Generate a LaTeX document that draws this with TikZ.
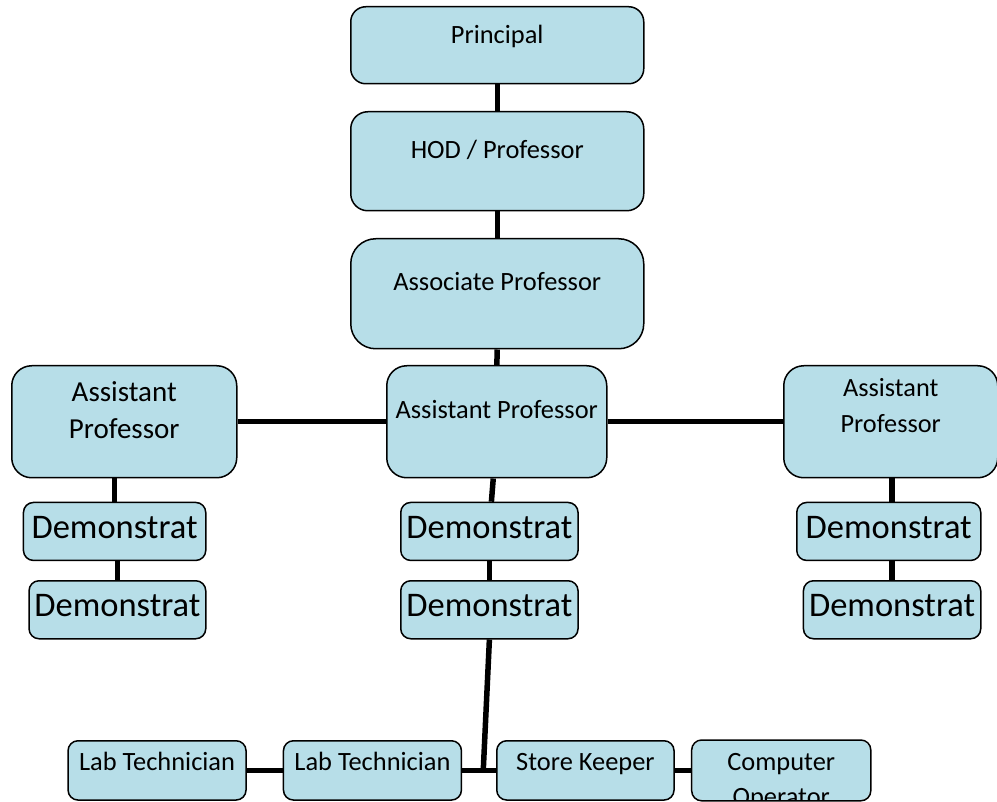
\documentclass[tikz,border=0pt]{standalone}
\usepackage{fontspec}
\setmainfont{Carlito}

\definecolor{boxblue}{HTML}{B7DEE8}
\newcommand{\mainsize}{\fontsize{26.4pt}{32pt}\selectfont}
\newcommand{\demosize}{\fontsize{34.5pt}{40pt}\selectfont}

\tikzset{
	orgbox/.style={draw=black, line width=1.5pt, fill=boxblue,
		rounded corners=#1, inner sep=0pt, anchor=north west,
		align=center, text=black, font=\mainsize},
	orgbox/.default=10pt,
	demobox/.style={orgbox, font=\demosize, text height=36pt, text depth=22pt},
	staffbox/.style={orgbox, minimum width=178pt, text height=30pt, text depth=29.3pt},
	link/.style={line width=5.5pt, black}
}

\begin{document}
\begin{tikzpicture}[x=1pt, y=-1pt]

\useasboundingbox (0,0) rectangle (997,802);

% Top chain
\node[orgbox=15pt, minimum width=293pt, text height=37pt, text depth=40pt]
	(principal) at (350,6) {Principal};
\node[orgbox=17pt, minimum width=293pt, text height=47pt, text depth=52pt]
	(hod) at (350,111) {HOD / Professor};
\node[orgbox=25pt, minimum width=293pt, text height=52pt, text depth=58pt]
	(assoc) at (350,238) {Associate Professor};

% Assistant professors
\node[orgbox=20pt, minimum width=220pt, text height=53pt, text depth=59pt]
	(asstC) at (386,365) {Assistant Professor};
\node[orgbox=20pt, minimum width=225pt, text height=72.7pt, text depth=39.3pt,
	font=\fontsize{29pt}{37pt}\selectfont]
	(asstL) at (11,365) {Assistant\\Professor};
\node[orgbox=20pt, minimum width=214pt, text height=66.7pt, text depth=45.3pt,
	font=\fontsize{26.3pt}{35.7pt}\selectfont]
	(asstR) at (783,365) {Assistant\\Professor};

% Demonstrators
\node[demobox, minimum width=182.3pt] (demL1) at (22.7,501.7) {Demonstrat};
\node[demobox, minimum width=176.7pt] (demL2) at (28.3,580) {Demonstrat};
\node[demobox, minimum width=177.3pt] (demC1) at (400,501.7) {Demonstrat};
\node[demobox, minimum width=177.3pt] (demC2) at (400,580) {Demonstrat};
\node[demobox, minimum width=184pt] (demR1) at (796,501.7) {Demonstrat};
\node[demobox, minimum width=177.3pt] (demR2) at (802.7,580) {Demonstrat};

% Lab staff
\node[staffbox] (lab1) at (67.3,740) {Lab Technician};
\node[staffbox] (lab2) at (282.7,740) {Lab Technician};
\node[staffbox, minimum width=177.3pt] (store) at (496,740) {Store Keeper};
\node[staffbox, minimum width=177.6pt, draw=none] (comp) at (691.7,740) {};
\begin{scope}
	\clip[rounded corners=10pt] (comp.north west) rectangle (comp.south east);
	\node[anchor=base, align=center, inner sep=0pt, font=\fontsize{26.4pt}{35pt}\selectfont]
		(comp-label) at ([yshift=-65pt]comp.north) {Computer\\Operator};
\end{scope}
\draw[line width=1.5pt, rounded corners=10pt] (comp.north west) rectangle (comp.south east);

\coordinate (staffjoin) at (483.3,769.6);

% Connect chain
\draw[link] (principal) -- (hod);
\draw[link] (hod) -- (assoc);
\draw[link] (assoc) -- (asstC);
\draw[link] (asstL) -- (asstC);
\draw[link] (asstC) -- (asstR);

% Connect demonstrators
\draw[link] (asstL.south -| demL1.north) -- (demL1.north);
\draw[link] (demL1.south -| demL2.north) -- (demL2.north);
\draw[link] ([xshift=-3.5pt]asstC.south) -- ([xshift=2pt]demC1.north);
\draw[link] (demC1) -- (demC2);
\draw[link] (asstR.south -| demR2.north) -- (demR1.north -| demR2.north);
\draw[link] (demR1.south -| demR2.north) -- (demR2.north);

% Connect lab staff
\draw[link] (demC2.south) -- (staffjoin);
\draw[link] (lab1) -- (lab2);
\draw[link] (lab2) -- (store);
\draw[link] (store) -- (comp);

\end{tikzpicture}
\end{document}
